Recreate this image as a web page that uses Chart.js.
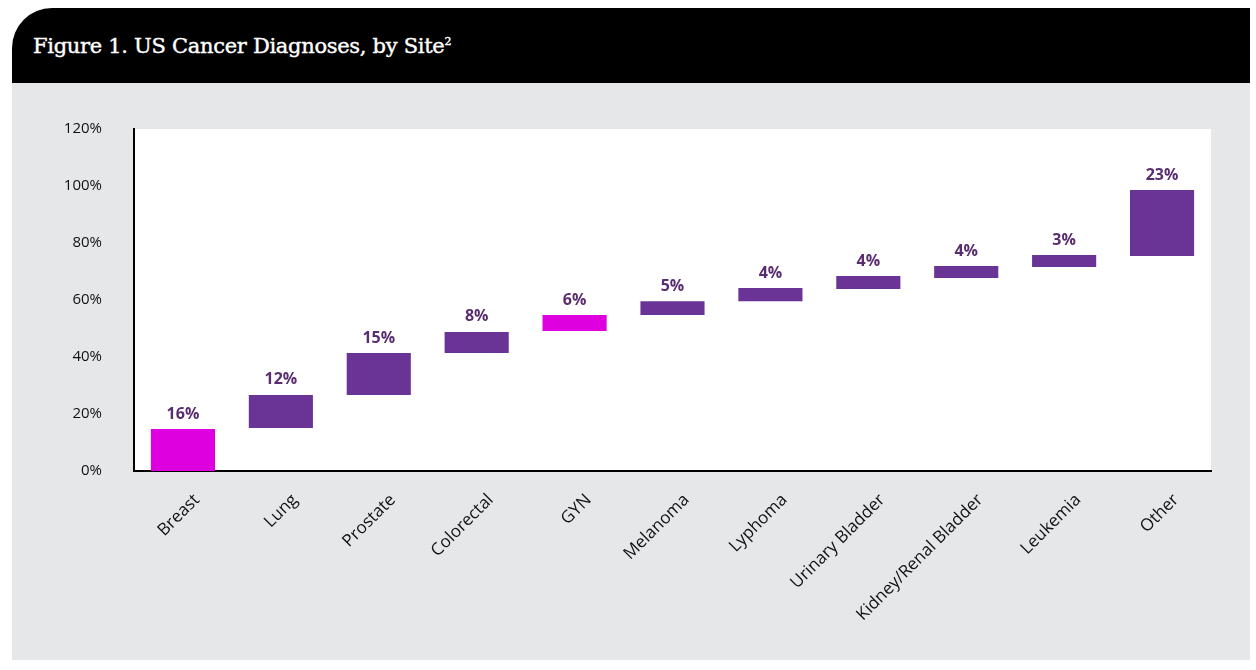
<!DOCTYPE html>
<html lang="en">
<head>
  <meta charset="UTF-8" />
  <title>US Cancer Diagnoses, by Site</title>
  <script src="https://cdn.jsdelivr.net/npm/chart.js"></script>
  <style>
    html, body {
      margin: 0;
      background: #fff;
      width: 1256px;
      height: 670px;
      overflow: hidden;
    }

    .header {
      position: absolute;
      left: 12px;
      top: 8px;
      width: 1238px;
      height: 75px;
      background: #000;
      border-top-left-radius: 40px;
    }

    .title {
      position: absolute;
      left: 21px;
      top: 26px;
      margin: 0;
      color: #fff;
      font-family: 'DejaVu Serif', serif;
      font-size: 21px;
      font-weight: normal;
      letter-spacing: -0.3px;
      -webkit-text-stroke: 0.4px #fff;
    }

    .title sup {
      font-size: 11px;
    }

    .panel {
      position: absolute;
      left: 12px;
      top: 83px;
      width: 1238px;
      height: 577px;
      background: #e6e7e8;
    }
  </style>
</head>
<body>
  <div class="header">
    <h1 class="title">Figure 1. US Cancer Diagnoses, by Site<sup>2</sup></h1>
  </div>
  <div class="panel">
    <canvas id="sites" width="1238" height="577"></canvas>
  </div>

  <script>
    // categories and values
    const sites = ['Breast', 'Lung', 'Prostate', 'Colorectal', 'GYN', 'Melanoma',
                   'Lyphoma', 'Urinary Bladder', 'Kidney/Renal Bladder', 'Leukemia', 'Other'];
    const shareLabels = [16, 12, 15, 8, 6, 5, 4, 4, 4, 3, 23];
    const barStart = [0, 15.1, 26.7, 41.4, 49.1, 54.7, 59.6, 63.9, 67.7, 71.6, 75.4];
    const barEnd = [14.7, 26.7, 41.4, 48.8, 54.7, 59.6, 64.2, 68.4, 71.9, 75.8, 98.6];
    const highlighted = ['Breast', 'GYN'];
    const yTicks = [0, 20, 40, 60, 80, 100, 120];

    const magenta = '#df00df';
    const purple = '#6a3396';

    // white plot area behind the bars
    const plotBackground = {
      id: 'plotBackground',
      beforeDraw(chart) {
        const a = chart.chartArea;
        const c = chart.ctx;
        c.save();
        c.fillStyle = '#fff';
        c.fillRect(a.left, a.top, a.right - a.left, a.bottom - a.top);
        c.restore();
      }
    };

    // percentage labels above each bar
    const barLabels = {
      id: 'barLabels',
      afterDatasetsDraw(chart) {
        const c = chart.ctx;
        const meta = chart.getDatasetMeta(0);
        c.save();
        c.font = 'bold 16px "Open Sans", sans-serif';
        c.fillStyle = '#5a2d70';
        c.textAlign = 'center';
        c.textBaseline = 'bottom';
        meta.data.forEach((bar, i) => {
          c.fillText(shareLabels[i] + '%', bar.x, bar.y - 7);
        });
        c.restore();
      }
    };

    const ctx = document.getElementById('sites').getContext('2d');
    new Chart(ctx, {
      type: 'bar',
      data: {
        labels: sites,
        datasets: [{
          data: sites.map((s, i) => [barStart[i], barEnd[i]]),
          backgroundColor: sites.map(s => highlighted.includes(s) ? magenta : purple),
          borderWidth: 0,
          categoryPercentage: 1,
          barPercentage: 0.655
        }]
      },
      options: {
        responsive: false,
        animation: false,
        layout: {
          padding: { top: 46, right: 39, left: 0, bottom: 0 }
        },
        plugins: {
          legend: { display: false },
          tooltip: { enabled: false }
        },
        scales: {
          x: {
            grid: { display: false, drawTicks: false },
            border: { color: '#000', width: 2 },
            ticks: {
              color: '#111',
              font: { family: '"Open Sans", sans-serif', size: 17 },
              minRotation: 45,
              maxRotation: 45,
              padding: 19,
              labelOffset: 14
            },
            afterFit(scale) { scale.height = 189; }
          },
          y: {
            min: 0,
            max: 120,
            afterBuildTicks(scale) { scale.ticks = yTicks.map(v => ({ value: v })); },
            grid: { display: false, drawTicks: false },
            border: { color: '#000', width: 2 },
            ticks: {
              color: '#111',
              font: { family: '"Open Sans", sans-serif', size: 15 },
              padding: 32,
              callback: v => v + '%'
            },
            afterFit(scale) { scale.width = 122; }
          }
        }
      },
      plugins: [plotBackground, barLabels]
    });
  </script>
</body>
</html>
